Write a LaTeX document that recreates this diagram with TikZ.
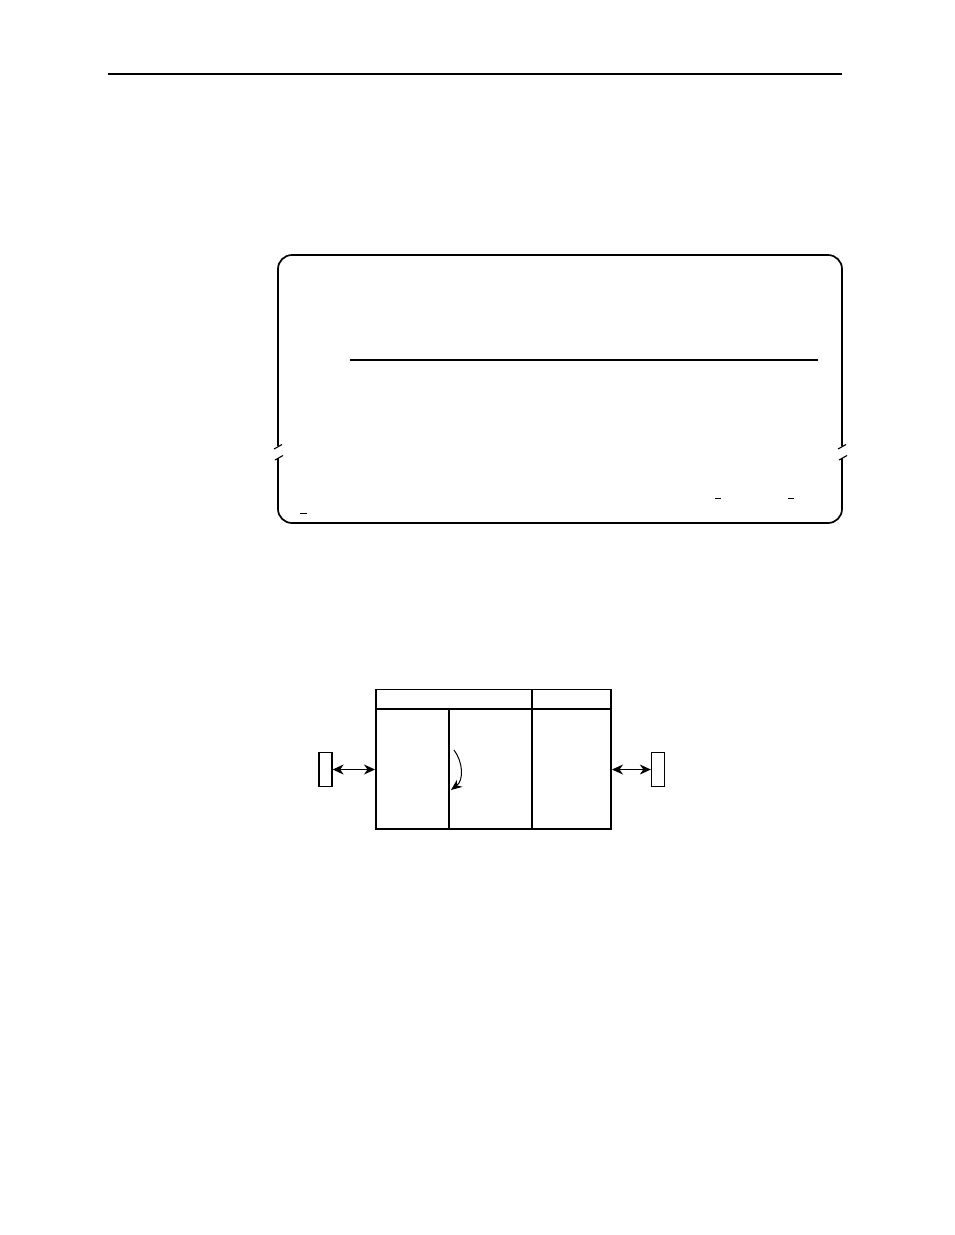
\documentclass[tikz,border=0pt]{standalone}
\usetikzlibrary{arrows.meta}
\tikzset{
  frame/.style={line width=1.7pt},
  thin/.style={line width=1.2pt},
  thick2/.style={line width=2.3pt},
  brk/.style={line width=1.1pt},
  dbl/.style={line width=1.2pt,{Stealth[length=11pt,width=10pt,inset=3.5pt]}-{Stealth[length=11pt,width=10pt,inset=3.5pt]}},
  port/.style={draw,line width=1.3pt,minimum width=13pt,minimum height=34pt,inner sep=0pt}
}
\begin{document}
\begin{tikzpicture}[x=1pt,y=-1pt]
\useasboundingbox (0,0) rectangle (954,1235);
% header rule
\draw[line width=1.3pt] (108,74) -- (842,74);
% top rounded frame with breaks
\draw[frame,rounded corners=14pt] (278,446) -- (278,255) -- (842,255) -- (842,446);
\draw[frame,rounded corners=14pt] (278,458) -- (278,523) -- (842,523) -- (842,458);
\draw[brk] (274,449) -- (282,444.5);
\draw[brk] (275,460) -- (283,455.5);
\draw[brk] (838,449) -- (846,444.5);
\draw[brk] (839,460) -- (847,455.5);
% inner rule
\draw[line width=1.1pt] (350,360) -- (818,360);
% small underscores
\draw[line width=0.9pt] (300,513) -- (307,513);
\draw[line width=0.9pt] (715,498) -- (721,498);
\draw[line width=0.9pt] (788,498) -- (794,498);
% lower diagram
\coordinate (tl) at (376,689.5);
\coordinate (br) at (611,829);
\draw[frame] (tl) rectangle (br);
\draw[thick2] (376,709) -- (532,709);
\draw[thin] (532,709) -- (611,709);
\draw[thin] (532,689.5) -- (532,829);
\draw[thick2] (449,709) -- (449,829);
\node[port] (lp) at (325.5,769.5) {};
\node[port] (rp) at (658,769.5) {};
\coordinate (la) at (375,769.5);
\coordinate (ra) at (612,769.5);
\draw[dbl] (lp.east) -- (la);
\draw[dbl] (ra) -- (rp.west);
\coordinate (cs) at (454,750);
\coordinate (ce) at (451,790);
\draw[line width=1pt,-{Stealth[length=11pt,width=9pt,inset=3.5pt]}] (cs) .. controls (463,762) and (464,780) .. (ce);
\end{tikzpicture}
\end{document}
